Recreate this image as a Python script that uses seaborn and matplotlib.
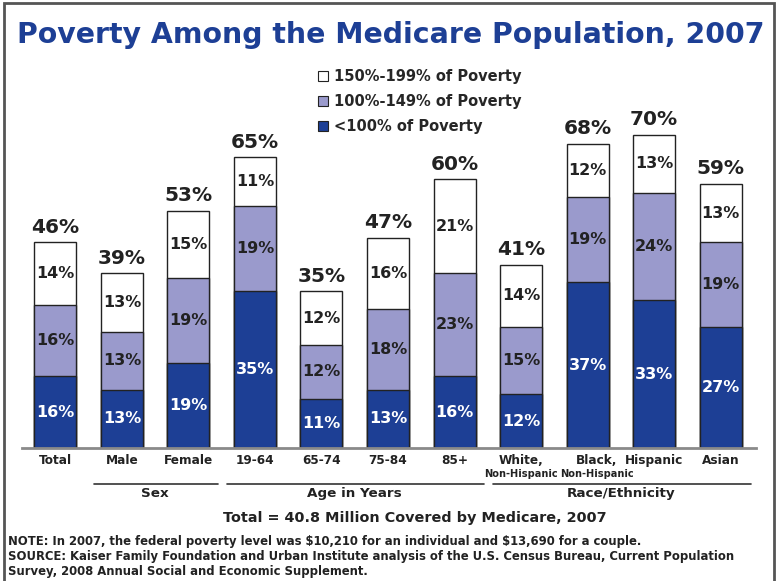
import matplotlib
matplotlib.use("Agg")
import matplotlib.pyplot as plt
import seaborn as sns
import pandas as pd
from matplotlib.patches import Patch, Rectangle
from matplotlib.lines import Line2D

# values
categories = ["Total", "Male", "Female", "19-64", "65-74", "75-84", "85+",
              "White", "Black", "Hispanic", "Asian"]
tick_labels = ["Total", "Male", "Female", "19-64", "65-74", "75-84", "85+",
               "White,", "Black,", "Hispanic", "Asian"]
sub_labels = ["", "", "", "", "", "", "", "Non-Hispanic", "Non-Hispanic", "", ""]
below_100 = [16, 13, 19, 35, 11, 13, 16, 12, 37, 33, 27]
pov_100_149 = [16, 13, 19, 19, 12, 18, 23, 15, 19, 24, 19]
pov_150_199 = [14, 13, 15, 11, 12, 16, 21, 14, 12, 13, 13]
totals = [46, 39, 53, 65, 35, 47, 60, 41, 68, 70, 59]
series_names = ["150%-199% of Poverty", "100%-149% of Poverty", "<100% of Poverty"]
group_names = ["Sex", "Age in Years", "Race/Ethnicity"]
group_members = [["Male", "Female"],
                 ["19-64", "65-74", "75-84", "85+"],
                 ["White", "Black", "Hispanic", "Asian"]]

TITLE = "Poverty Among the Medicare Population, 2007"
SUBTOTAL = "Total = 40.8 Million Covered by Medicare, 2007"
NOTES = ["NOTE: In 2007, the federal poverty level was $10,210 for an individual and $13,690 for a couple.",
         "SOURCE: Kaiser Family Foundation and Urban Institute analysis of the U.S. Census Bureau, Current Population",
         "Survey, 2008 Annual Social and Economic Supplement."]

DARK = "#1d3f95"
LAV = "#9a9acc"
EDGE = "#222222"
TXT = "#222222"

W, H = 776, 581


def fx(x):
    return x / W


def fy(y):
    return 1 - y / H


sns.set_style("white")
plt.rcParams["font.family"] = ["DejaVu Sans"]
plt.rcParams["font.weight"] = "bold"
plt.rcParams["text.parse_math"] = False

df = pd.DataFrame({"category": categories, "below": below_100,
                   "mid": pov_100_149, "upper": pov_150_199})
df["lower_mid"] = df["below"] + df["mid"]
df["top"] = df["lower_mid"] + df["upper"]

fig = plt.figure(figsize=(W / 100, H / 100), dpi=100)
ax = fig.add_axes([fx(22), fy(448), fx(756 - 22), (448 - 90) / H])

# stacked bars drawn as overlapping cumulative bars
for col, colr in [("top", "white"), ("lower_mid", LAV), ("below", DARK)]:
    sns.barplot(data=df, x="category", y=col, order=categories, color=colr,
                saturation=1, edgecolor=EDGE, linewidth=1, width=0.63,
                errorbar=None, ax=ax)

ax.set_xlim(-0.5, 10.53)
ax.set_ylim(0, 80)
ax.set_xlabel("")
ax.set_ylabel("")
ax.set_xticks([])
ax.set_yticks([])
for s in ["top", "left", "right"]:
    ax.spines[s].set_visible(False)
ax.spines["bottom"].set_color("#8a8a8a")
ax.spines["bottom"].set_linewidth(2)

for i, row in df.iterrows():
    ax.text(i, row["below"] / 2, f"{row['below']}%", ha="center", va="center",
            color="white", fontsize=11.5, fontweight="bold")
    ax.text(i, row["below"] + row["mid"] / 2, f"{row['mid']}%", ha="center",
            va="center", color=TXT, fontsize=11.5, fontweight="bold")
    ax.text(i, row["lower_mid"] + row["upper"] / 2, f"{row['upper']}%",
            ha="center", va="center", color=TXT, fontsize=11.5, fontweight="bold")
    ax.annotate(f"{totals[i]}%", (i, row["top"]), xytext=(0, 4),
                textcoords="offset points", ha="center", va="bottom",
                color=TXT, fontsize=14.5, fontweight="bold")

# category labels under the bars
xt = ax.get_xaxis_transform()
for i, lab in enumerate(tick_labels):
    shift = 0.135 if categories[i] == "Black" else 0
    ax.text(i + shift, -0.036, lab, transform=xt, ha="center", va="center",
            fontsize=8.7, fontweight="bold", color=TXT)
    if sub_labels[i]:
        ax.text(i + shift, -0.073, sub_labels[i], transform=xt, ha="center",
                va="center", fontsize=7.1, fontweight="bold", color=TXT)

# group brackets
for name, members in zip(group_names, group_members):
    idx = [categories.index(m) for m in members]
    ax.add_line(Line2D([min(idx) - 0.42, max(idx) + 0.45], [-0.101, -0.101],
                       transform=xt, color="#333333", lw=1.2, clip_on=False))
    ax.text((min(idx) + max(idx)) / 2, -0.128, name, transform=xt,
            ha="center", va="center", fontsize=9.7, fontweight="bold",
            color=TXT)

# legend
handles = [Patch(facecolor=c, edgecolor=EDGE, linewidth=0.8)
           for c in ["white", LAV, DARK]]
fig.legend(handles, series_names, loc="upper left",
           bbox_to_anchor=(fx(318), fy(69)), frameon=False, fontsize=10.5,
           handlelength=0.7, handleheight=0.7, handletextpad=0.4,
           labelspacing=0.7, borderaxespad=0, borderpad=0)

fig.text(fx(391), fy(35), TITLE, ha="center", va="center", color=DARK,
         fontsize=20.4, fontweight="bold")
fig.text(fx(415), fy(518), SUBTOTAL, ha="center", va="center", color=TXT,
         fontsize=10.4, fontweight="bold")
for k, line in enumerate(NOTES):
    fig.text(fx(8), fy(541 + 15.5 * k), line, ha="left", va="center",
             color=TXT, fontsize=8.4, fontweight="bold")

# outer frame
fig.add_artist(Rectangle((fx(4), -0.1), fx(770), fy(3) + 0.1, fill=False,
                         edgecolor="#555555", lw=2, transform=fig.transFigure))

fig.savefig("out.png", dpi=100)
